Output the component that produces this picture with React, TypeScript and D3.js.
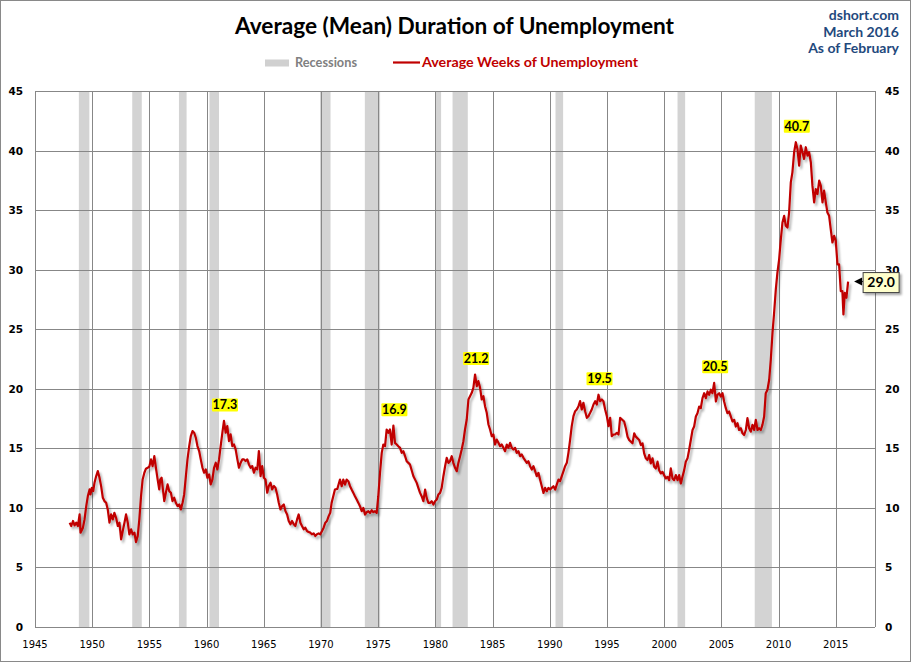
import React from "react";
import * as d3 from "d3";

const W = 911;
const H = 662;
const PLOT = { left: 35, right: 875, top: 91, bottom: 627 };
const X_MIN = 1945;
const X_MAX = 2018.43;

// NBER recessions: [start year, start month, end year, end month]
const recessions: [number, number, number, number][] = [
  [1948, 11, 1949, 10],
  [1953, 7, 1954, 5],
  [1957, 8, 1958, 4],
  [1960, 4, 1961, 2],
  [1969, 12, 1970, 11],
  [1973, 11, 1975, 3],
  [1980, 1, 1980, 7],
  [1981, 7, 1982, 11],
  [1990, 7, 1991, 3],
  [2001, 3, 2001, 11],
  [2007, 12, 2009, 6],
];

// average weeks of unemployment [year, weeks]
const weeks1948: [number, number][] = [
  [1948.03, 8.76], [1948.17, 8.48], [1948.32, 8.9], [1948.46, 8.53], [1948.61, 8.76], [1948.75, 8.48],
  [1948.9, 9.45], [1948.98, 7.92], [1949.19, 8.34], [1949.33, 9.03], [1949.48, 10.15], [1949.62, 10.99],
  [1949.77, 11.55], [1949.85, 11.13], [1949.97, 11.69], [1950.09, 11.41], [1950.2, 12.11], [1950.35, 12.67],
  [1950.49, 13.09], [1950.64, 12.53], [1950.78, 11.83], [1950.93, 10.85], [1951.07, 10.57], [1951.22, 10.43],
  [1951.36, 9.87], [1951.51, 8.76], [1951.65, 9.45], [1951.8, 9.03], [1951.94, 9.59], [1952.09, 9.17],
  [1952.24, 8.48], [1952.38, 8.76], [1952.53, 7.36], [1952.67, 8.06], [1952.82, 8.76], [1952.96, 9.45],
  [1953.11, 8.76], [1953.25, 7.78], [1953.4, 8.2], [1953.54, 7.78], [1953.69, 7.92], [1953.83, 7.13],
  [1953.98, 7.64], [1954.12, 9.03], [1954.27, 10.99], [1954.41, 12.39], [1954.56, 12.95], [1954.7, 13.29],
  [1954.85, 13.37], [1954.99, 13.45], [1955.14, 14.07], [1955.28, 13.51], [1955.43, 14.35], [1955.57, 13.37],
  [1955.72, 12.39], [1955.86, 11.55], [1955.95, 12.39], [1956.07, 12.53], [1956.15, 11.83], [1956.3, 10.57],
  [1956.44, 11.27], [1956.59, 11.97], [1956.73, 11.41], [1956.88, 11.27], [1957.02, 10.57], [1957.17, 10.85],
  [1957.31, 10.43], [1957.46, 10.15], [1957.61, 10.29], [1957.75, 9.87], [1957.9, 10.43], [1958.04, 11.13],
  [1958.19, 12.67], [1958.33, 14.07], [1958.48, 15.19], [1958.62, 16.03], [1958.77, 16.45], [1958.91, 16.31],
  [1959.06, 15.89], [1959.2, 15.19], [1959.35, 14.77], [1959.49, 14.07], [1959.64, 13.37], [1959.78, 12.95],
  [1959.93, 13.23], [1960.07, 12.53], [1960.22, 12.81], [1960.36, 11.97], [1960.51, 12.39], [1960.65, 13.37],
  [1960.8, 13.79], [1960.94, 13.23], [1961.09, 14.07], [1961.23, 15.19], [1961.38, 16.31], [1961.52, 17.3],
  [1961.67, 16.31], [1961.81, 16.87], [1961.96, 15.61], [1962.1, 16.17], [1962.25, 15.19], [1962.39, 15.33],
  [1962.54, 14.91], [1962.69, 14.07], [1962.83, 13.37], [1962.98, 13.79], [1963.12, 14.07], [1963.27, 14.07],
  [1963.41, 13.93], [1963.56, 14.07], [1963.7, 13.65], [1963.85, 13.37], [1963.99, 13.51], [1964.14, 12.95],
  [1964.28, 13.37], [1964.43, 13.23], [1964.57, 14.77], [1964.72, 12.67], [1964.86, 13.51], [1965.01, 12.53],
  [1965.15, 12.39], [1965.3, 11.27], [1965.44, 11.83], [1965.59, 12.11], [1965.73, 11.55], [1965.88, 11.83],
  [1966.02, 11.69], [1966.17, 11.13], [1966.31, 10.43], [1966.46, 9.87], [1966.6, 10.15], [1966.75, 10.29],
  [1966.89, 9.73], [1967.04, 9.45], [1967.18, 8.9], [1967.33, 8.62], [1967.47, 8.9], [1967.62, 8.62],
  [1967.76, 8.48], [1967.91, 9.03], [1968.05, 9.45], [1968.2, 8.76], [1968.34, 8.48], [1968.49, 8.2],
  [1968.63, 8.34], [1968.78, 8.06], [1968.92, 7.97], [1969.07, 7.92], [1969.21, 7.78], [1969.36, 7.86],
  [1969.5, 7.64], [1969.65, 7.78], [1969.8, 7.86], [1969.94, 7.78], [1970.09, 8.06], [1970.23, 8.34],
  [1970.38, 8.76], [1970.52, 8.9], [1970.67, 9.31], [1970.81, 9.59],
];

const weeks1971: [number, number][] = [
  [1970.93, 10.42], [1971.22, 11.54], [1971.43, 11.6], [1971.66, 12.38], [1971.81, 11.82], [1971.95, 12.38],
  [1972.1, 11.96], [1972.24, 12.38], [1972.39, 12.24], [1972.54, 11.82], [1972.68, 11.54], [1972.83, 11.26],
  [1972.97, 10.98], [1973.12, 10.7], [1973.27, 10.42], [1973.41, 10.14], [1973.56, 9.72], [1973.7, 10.0],
  [1973.85, 9.44], [1973.99, 9.64], [1974.14, 9.72], [1974.29, 9.58], [1974.43, 9.8], [1974.58, 9.64],
  [1974.72, 9.72], [1974.87, 9.58], [1975.01, 10.98], [1975.16, 12.94], [1975.31, 14.62], [1975.45, 15.32],
  [1975.6, 15.18], [1975.74, 16.58], [1975.89, 16.3], [1976.03, 16.58], [1976.18, 15.32], [1976.33, 16.9],
  [1976.47, 15.46], [1976.62, 15.32], [1976.76, 15.18], [1976.91, 15.04], [1977.06, 14.62], [1977.2, 14.76],
  [1977.35, 14.34], [1977.49, 13.92], [1977.64, 13.78], [1977.78, 13.64], [1978.08, 12.66], [1978.37, 12.1],
  [1978.51, 11.68], [1978.66, 11.26], [1978.8, 10.98], [1978.95, 10.56], [1979.1, 11.54], [1979.24, 10.84],
  [1979.39, 10.42], [1979.53, 10.42], [1979.68, 10.56], [1979.83, 10.28], [1979.97, 10.56], [1980.12, 10.7],
  [1980.26, 11.12], [1980.41, 11.26], [1980.55, 11.68], [1980.7, 12.66], [1980.85, 13.5], [1980.99, 14.2],
  [1981.14, 13.78], [1981.28, 13.92], [1981.43, 14.34], [1981.57, 13.78], [1981.72, 13.36], [1981.87, 13.08],
  [1982.01, 13.78], [1982.16, 14.34], [1982.3, 14.9], [1982.45, 15.6], [1982.59, 16.58], [1982.74, 17.42],
  [1982.89, 19.1], [1983.03, 19.38], [1983.18, 19.66], [1983.32, 20.08], [1983.47, 21.2], [1983.62, 20.22],
  [1983.76, 20.64], [1983.91, 20.08], [1984.05, 19.1], [1984.2, 19.38], [1984.34, 18.54], [1984.49, 17.98],
  [1984.64, 17.0], [1984.78, 16.58], [1984.93, 16.02], [1985.07, 16.16], [1985.22, 15.32], [1985.36, 15.74],
  [1985.51, 15.46], [1985.66, 15.18], [1985.8, 15.32], [1985.95, 15.04], [1986.09, 14.76], [1986.24, 15.32],
  [1986.38, 15.04], [1986.53, 15.46], [1986.68, 15.04], [1986.82, 14.9], [1986.97, 15.04], [1987.11, 14.62],
  [1987.26, 14.76], [1987.41, 14.34], [1987.55, 14.48], [1987.7, 14.2], [1987.99, 13.78], [1988.13, 13.92],
  [1988.28, 13.5], [1988.43, 13.22], [1988.57, 13.5], [1988.72, 13.08], [1988.86, 12.66], [1989.01, 12.94],
  [1989.15, 12.38], [1989.3, 11.82], [1989.45, 11.26], [1989.59, 11.68], [1989.74, 11.4], [1989.88, 11.68],
  [1990.03, 11.54], [1990.17, 11.68], [1990.32, 11.82], [1990.47, 11.54], [1990.61, 11.96], [1990.76, 12.38],
  [1990.9, 12.24], [1991.05, 12.66], [1991.2, 13.08], [1991.34, 13.5], [1991.49, 13.78], [1991.63, 14.62],
  [1991.78, 15.74], [1991.92, 16.86], [1992.07, 17.7], [1992.22, 18.12], [1992.36, 18.26], [1992.51, 18.54],
  [1992.65, 18.96], [1992.8, 18.26], [1992.94, 18.82], [1993.09, 18.12], [1993.24, 17.56], [1993.38, 17.7],
  [1993.53, 17.98], [1993.67, 18.26], [1993.82, 18.68], [1993.97, 18.96], [1994.11, 18.68], [1994.26, 19.5],
  [1994.4, 18.96], [1994.55, 19.1], [1994.69, 18.96], [1994.84, 18.26], [1994.99, 17.7], [1995.13, 16.86],
  [1995.28, 17.56], [1995.42, 16.02], [1995.57, 16.16], [1995.71, 16.16], [1995.86, 16.3], [1996.01, 16.16],
  [1996.15, 17.56],
];

const weeks1996: [number, number][] = [
  [1996.5, 17.25], [1996.65, 16.69], [1996.8, 15.98], [1996.94, 15.7], [1997.23, 15.42], [1997.38, 16.26],
  [1997.52, 15.98], [1997.82, 15.7], [1997.96, 15.28], [1998.11, 15.42], [1998.25, 14.58], [1998.4, 14.16],
  [1998.54, 14.02], [1998.69, 14.44], [1998.83, 13.74], [1998.98, 14.16], [1999.13, 13.46], [1999.27, 13.31],
  [1999.42, 13.88], [1999.56, 13.17], [1999.71, 12.89], [1999.85, 13.03], [2000.0, 12.75], [2000.15, 12.47],
  [2000.29, 12.61], [2000.44, 12.33], [2000.58, 13.31], [2000.73, 12.47], [2000.87, 12.33], [2001.02, 12.75],
  [2001.17, 12.33], [2001.31, 12.75], [2001.46, 12.05], [2001.6, 12.61], [2001.75, 13.17], [2001.89, 13.88],
  [2002.04, 14.16], [2002.18, 14.86], [2002.33, 15.7], [2002.48, 16.54], [2002.62, 16.83], [2002.77, 17.67],
  [2002.91, 17.95], [2003.06, 18.51], [2003.2, 18.37], [2003.35, 19.21], [2003.5, 19.63], [2003.64, 19.21],
  [2003.79, 19.78], [2003.93, 19.49], [2004.08, 19.92], [2004.22, 19.63], [2004.37, 20.5], [2004.52, 18.93],
  [2004.66, 19.49], [2004.81, 19.63], [2004.95, 19.35], [2005.1, 19.63], [2005.24, 18.93], [2005.39, 18.37],
  [2005.53, 17.95], [2005.68, 18.09], [2005.83, 17.67], [2005.97, 17.25], [2006.12, 17.39], [2006.26, 16.83],
  [2006.41, 17.11], [2006.55, 16.54], [2006.7, 16.69], [2006.85, 16.26], [2006.99, 16.12], [2007.14, 16.54],
  [2007.28, 17.53], [2007.43, 16.69], [2007.57, 16.4], [2007.72, 16.97], [2007.86, 16.54], [2008.01, 17.39],
  [2008.16, 16.54], [2008.3, 16.69], [2008.45, 16.54], [2008.59, 16.97], [2008.74, 17.67], [2008.88, 19.63],
  [2009.03, 19.92], [2009.18, 20.76], [2009.32, 22.44], [2009.47, 24.69], [2009.61, 26.38], [2009.76, 28.34],
  [2009.9, 29.75], [2010.05, 30.87], [2010.2, 32.56], [2010.34, 33.96], [2010.49, 34.52], [2010.63, 33.68],
  [2010.78, 33.54], [2010.92, 34.8], [2011.07, 37.33], [2011.21, 38.17], [2011.36, 39.86], [2011.51, 40.7],
  [2011.65, 40.14], [2011.8, 38.74], [2011.94, 40.42], [2012.09, 39.86], [2012.23, 39.3], [2012.38, 40.28],
  [2012.53, 39.58], [2012.67, 39.86], [2012.82, 39.02], [2012.96, 37.05], [2013.11, 35.65], [2013.25, 36.77],
  [2013.4, 36.35], [2013.55, 37.47], [2013.69, 37.05], [2013.84, 35.65], [2013.98, 36.63], [2014.13, 35.65],
  [2014.27, 34.8], [2014.42, 34.52], [2014.56, 33.4], [2014.71, 32.28], [2014.86, 32.84], [2015.0, 32.42],
  [2015.15, 30.45], [2015.29, 30.45], [2015.44, 28.2], [2015.58, 28.2], [2015.67, 26.24], [2015.79, 28.06],
  [2015.93, 27.64], [2016.08, 29.0],
];

const xTicks = [1945, 1950, 1955, 1960, 1965, 1970, 1975, 1980, 1985, 1990, 1995, 2000, 2005, 2010, 2015];
const yTicks = [0, 5, 10, 15, 20, 25, 30, 35, 40, 45];

const peaks = [
  { year: 1961.52, value: 17.3, text: "17.3" },
  { year: 1976.33, value: 16.9, text: "16.9" },
  { year: 1983.47, value: 21.2, text: "21.2" },
  { year: 1994.26, value: 19.5, text: "19.5" },
  { year: 2004.37, value: 20.5, text: "20.5" },
  { year: 2011.51, value: 40.7, text: "40.7" },
];
const latest = { year: 2016.08, value: 29.0, text: "29.0" };

const GRID = "#878787";
const RED = "#C00000";
const BLUE = "#1F497D";
const CAL = "Lato, 'Open Sans', sans-serif";
const VER = "'DejaVu Sans', Verdana, sans-serif";

const monthToYear = (yr: number, m: number) => yr + (m - 1) / 12;

export default function App() {
  const x = d3.scaleLinear().domain([X_MIN, X_MAX]).range([PLOT.left, PLOT.right]);
  const y = d3.scaleLinear().domain([0, 45]).range([PLOT.bottom, PLOT.top]);
  const series = [...weeks1948, ...weeks1971, ...weeks1996];
  const line = d3
    .line<[number, number]>()
    .x((d) => x(d[0]))
    .y((d) => y(d[1]));

  const lx = x(latest.year);
  const ly = y(latest.value);

  return (
    <svg
      width={W}
      height={H}
      style={{ position: "absolute", left: 0, top: 0, display: "block", background: "#fff" }}
    >
      <defs>
        <filter id="lineShadow" x="-5%" y="-5%" width="110%" height="110%">
          <feDropShadow dx="2" dy="2.5" stdDeviation="1.2" floodColor="#000" floodOpacity="0.3" />
        </filter>
        <filter id="boxShadow" x="-20%" y="-20%" width="150%" height="150%">
          <feDropShadow dx="2" dy="2" stdDeviation="1" floodColor="#000" floodOpacity="0.35" />
        </filter>
      </defs>
      <rect x={0.5} y={0.5} width={W - 1} height={H - 1} fill="#fff" stroke="#898989" />

      {/* titles */}
      <text x={235} y={34} fontFamily={CAL} fontWeight={700} fontSize={22} fill="#000" textLength={439} lengthAdjust="spacingAndGlyphs">
        Average (Mean) Duration of Unemployment
      </text>
      <g fontFamily={CAL} fontWeight={700} fontSize={14} fill={BLUE} textAnchor="end">
        <text x={899} y={20}>dshort.com</text>
        <text x={899} y={37}>March 2016</text>
        <text x={899} y={53}>As of February</text>
      </g>

      {/* legend */}
      <rect x={265} y={59.5} width={24} height={7} fill="#D0D0D0" />
      <text x={295} y={67} fontFamily={CAL} fontWeight={700} fontSize={13.5} fill="#808080" textLength={62} lengthAdjust="spacingAndGlyphs">
        Recessions
      </text>
      <line x1={393} x2={420} y1={62.5} y2={62.5} stroke={RED} strokeWidth={2.2} />
      <text x={422} y={67} fontFamily={CAL} fontWeight={700} fontSize={13.5} fill={RED} textLength={216} lengthAdjust="spacingAndGlyphs">
        Average Weeks of Unemployment
      </text>

      {/* recession bands */}
      {recessions.map(([sy, sm, ey, em], i) => {
        const x0 = x(monthToYear(sy, sm));
        const x1 = x(monthToYear(ey, em));
        return <rect key={i} x={x0} y={PLOT.top} width={x1 - x0} height={PLOT.bottom - PLOT.top} fill="#D3D3D3" />;
      })}

      {/* grid */}
      {yTicks.map((t) => (
        <line key={"h" + t} x1={PLOT.left} x2={PLOT.right} y1={Math.round(y(t)) + 0.5} y2={Math.round(y(t)) + 0.5} stroke={GRID} />
      ))}
      {xTicks.map((t) => (
        <line key={"v" + t} x1={Math.round(x(t)) + 0.5} x2={Math.round(x(t)) + 0.5} y1={PLOT.top} y2={PLOT.bottom} stroke={GRID} />
      ))}
      <line x1={PLOT.right + 0.5} x2={PLOT.right + 0.5} y1={PLOT.top} y2={PLOT.bottom} stroke={GRID} />

      {/* y labels */}
      <g fontFamily={VER} fontWeight={700} fontSize={10.5} fill="#000">
        {yTicks.map((t) => (
          <text key={"yl" + t} x={23} y={y(t) + 4} textAnchor="end">{t}</text>
        ))}
        {yTicks.map((t) => (
          <text key={"yr" + t} x={885} y={y(t) + 4} textAnchor="start">{t}</text>
        ))}
      </g>
      {/* x labels */}
      <g fontFamily={VER} fontSize={10} fill="#000" textAnchor="middle">
        {xTicks.map((t) => (
          <text key={"xl" + t} x={x(t)} y={648}>{t}</text>
        ))}
      </g>

      {/* series */}
      <path d={line(series) || ""} fill="none" stroke={RED} strokeWidth={2.2} strokeLinejoin="round" filter="url(#lineShadow)" />

      {/* peak labels */}
      {peaks.map((p) => {
        const cx = x(p.year) + 1;
        const cy = y(p.value) - 16;
        return (
          <g key={p.text}>
            <rect x={cx - 13} y={cy - 6.5} width={26} height={13} fill="#FFFF00" rx={1} />
            <text x={cx} y={cy + 4.5} textAnchor="middle" fontFamily={CAL} fontWeight={700} fontSize={12.5} fill="#000">
              {p.text}
            </text>
          </g>
        );
      })}

      {/* latest value callout */}
      <path d={`M${lx + 6},${ly} L${lx + 14},${ly - 4} L${lx + 14},${ly + 4} Z`} fill="#000" />
      <line x1={lx + 12} x2={lx + 15} y1={ly} y2={ly} stroke="#000" />
      <rect x={lx + 15} y={ly - 9} width={36} height={20} fill="#FFFFCC" stroke="#404040" strokeWidth={1} filter="url(#boxShadow)" />
      <text x={lx + 33} y={ly + 5.5} textAnchor="middle" fontFamily={CAL} fontWeight={700} fontSize={14} fill="#000">
        {latest.text}
      </text>
    </svg>
  );
}
